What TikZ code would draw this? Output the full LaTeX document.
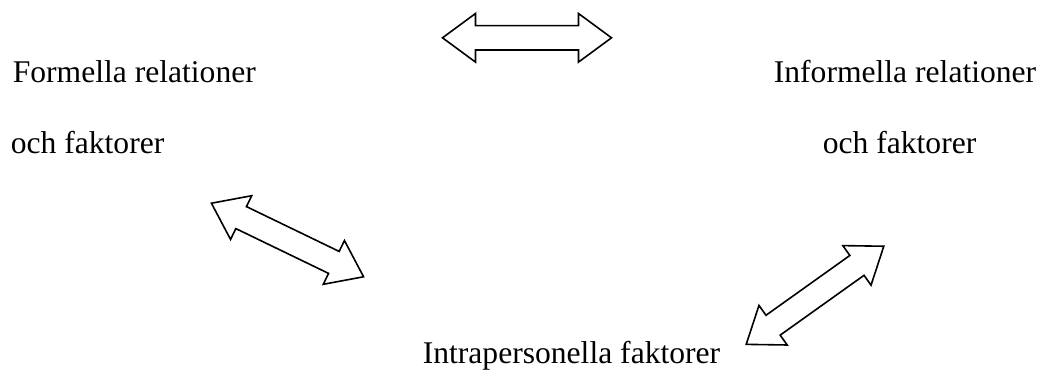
\documentclass[tikz,border=0pt]{standalone}
\usepackage{fontspec}
\setmainfont{Liberation Serif}

\begin{document}
\begin{tikzpicture}[
  x=0.5pt, y=-0.5pt,
  line width=0.8pt,
  etikett/.style={inner sep=0, font=\fontsize{15.8}{19}\selectfont},
  dubbelpil/.pic={
    \draw[line join=miter] (-84.5,0) -- (-51.5,-24.3) -- (-51.5,-12.2)
      -- (51.5,-12.2) -- (51.5,-24.3) -- (84.5,0) -- (51.5,24.3)
      -- (51.5,12.2) -- (-51.5,12.2) -- (-51.5,24.3) -- cycle;
  }
  ]
  \useasboundingbox (0,0) rectangle (1044,370);

  \node [etikett, anchor=base west] (formella) at (12, 82) {Formella relationer};
  \node [etikett, anchor=base west] (formella2) at (10, 153) {och faktorer};

  \node [etikett, anchor=base east] (informella) at (1037, 82) {Informella relationer};
  \node [etikett, anchor=base west] (informella2) at (822, 153) {och faktorer};

  \node [etikett, anchor=base west] (intra) at (422, 363) {Intrapersonella faktorer};

  \pic (pilTopp) at (527, 37.8) {dubbelpil};
  \pic [rotate=-25.8] (pilVanster) at (287.5, 240) {dubbelpil};
  \pic [rotate=35.5] (pilHoger) at (815, 295.3) {dubbelpil};

\end{tikzpicture}
\end{document}
